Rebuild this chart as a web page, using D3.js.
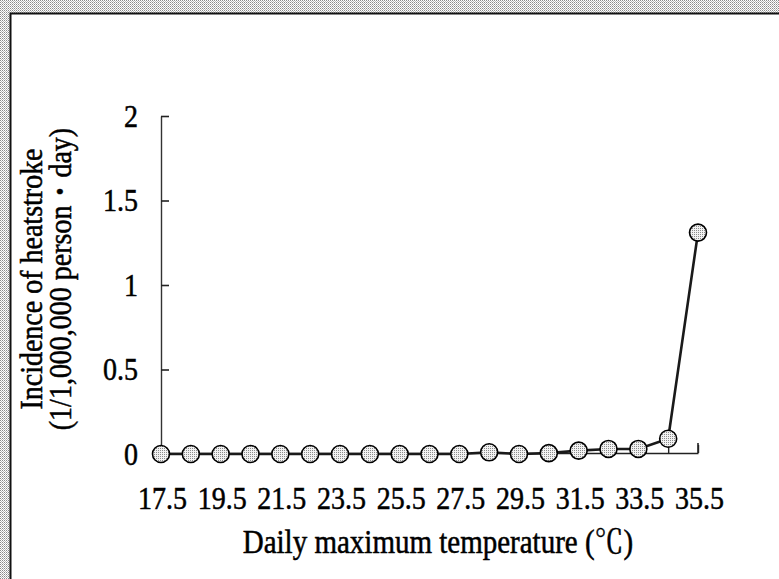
<!DOCTYPE html>
<html>
<head>
<meta charset="utf-8">
<script src="https://cdn.jsdelivr.net/npm/d3@7"></script>
<style>
  html, body { margin: 0; padding: 0; background: #fff; }
  svg { display: block; }
  text { font-family: "Liberation Serif", "Times New Roman", "Noto Serif CJK JP", "Noto Sans CJK JP", serif; fill: #000; stroke: #000; stroke-width: 0.45px; }
</style>
</head>
<body>
<script>
// ---- data ----
const temperatures = [17.5, 18.5, 19.5, 20.5, 21.5, 22.5, 23.5, 24.5, 25.5, 26.5, 27.5, 28.5, 29.5, 30.5, 31.5, 32.5, 33.5, 34.5, 35.5];
const incidence    = [0, 0, 0, 0, 0, 0, 0, 0, 0, 0, 0, 0.01, 0, 0.005, 0.02, 0.03, 0.03, 0.09, 1.31];
const xTickLabels  = ["17.5", "19.5", "21.5", "23.5", "25.5", "27.5", "29.5", "31.5", "33.5", "35.5"];
const yTicks       = [0, 0.5, 1, 1.5, 2];
const xTitle = "Daily maximum temperature (\u2103)";
const yTitleLines = ["Incidence of heatstroke", "(1/1,000,000 person\u30FBday)"];

const W = 779, H = 579;
const SY = 1.13; // vertical stretch of the scanned text
const svg = d3.select("body").append("svg").attr("width", W).attr("height", H);

// patterns
const defs = svg.append("defs");
const stip = defs.append("pattern").attr("id", "stip").attr("width", 2).attr("height", 2).attr("patternUnits", "userSpaceOnUse");
stip.append("rect").attr("width", 2).attr("height", 2).attr("fill", "#fff");
stip.append("rect").attr("x", 0).attr("y", 0).attr("width", 1).attr("height", 1).attr("fill", "#8a8a8a");
stip.append("rect").attr("x", 1).attr("y", 1).attr("width", 1).attr("height", 1).attr("fill", "#b8b8b8");
const dot = defs.append("pattern").attr("id", "dot").attr("width", 2).attr("height", 2).attr("patternUnits", "userSpaceOnUse");
dot.append("rect").attr("width", 2).attr("height", 2).attr("fill", "#f2f2f2");
dot.append("rect").attr("x", 0).attr("y", 0).attr("width", 1).attr("height", 1).attr("fill", "#8c8c8c");

// stippled margins (scan border)
svg.append("rect").attr("x", 0).attr("y", 0).attr("width", W).attr("height", 13).attr("fill", "url(#stip)");
svg.append("rect").attr("x", 0).attr("y", 0).attr("width", 10).attr("height", H).attr("fill", "url(#stip)");
svg.append("path").attr("d", `M10.5,${H}V13.5H${W}`).attr("fill", "none").attr("stroke", "#111").attr("stroke-width", 2);

// scales
const x = d3.scaleLinear().domain([17.5, 35.5]).range([161, 698]);
const y = d3.scaleLinear().domain([0, 2]).range([454, 116]);

// y axis
const yAxis = svg.append("g").attr("transform", `translate(${x(17.5)},0)`)
  .call(d3.axisLeft(y).tickValues(yTicks).tickSizeInner(-8).tickSizeOuter(0).tickPadding(23)
        .tickFormat(d => d3.format("")(d)));
yAxis.attr("font-family", null).attr("font-size", null);
yAxis.select(".domain").attr("stroke", "#333").attr("stroke-width", 1.4);
yAxis.selectAll(".tick line").attr("stroke", "#222").attr("stroke-width", 1.6);
yAxis.selectAll(".tick text").attr("font-size", 28).attr("dy", null).attr("x", null)
  .attr("transform", `translate(-23,10) scale(1,${SY})`);

// x axis
const xAxis = svg.append("g").attr("transform", `translate(0,${y(0) - 1})`)
  .call(d3.axisBottom(x).tickValues(temperatures).tickSizeInner(-8).tickSizeOuter(0).tickPadding(34)
        .tickFormat(d => xTickLabels.includes(d.toFixed(1)) ? d.toFixed(1) : ""));
xAxis.attr("font-family", null).attr("font-size", null);
xAxis.select(".domain").attr("stroke", "#222").attr("stroke-width", 1.6);
xAxis.selectAll(".tick line").attr("stroke", "#222").attr("stroke-width", 1.4);
xAxis.selectAll(".tick text").attr("font-size", 28).attr("dy", null).attr("y", null)
  .attr("transform", `translate(1,56) scale(1,${SY})`);
// right-end tick
xAxis.append("line").attr("x1", x(35.5)).attr("x2", x(35.5)).attr("y1", 0).attr("y2", -10)
  .attr("stroke", "#222").attr("stroke-width", 1.6);

// line
const pts = temperatures.map((t, i) => [t, incidence[i]]);
svg.append("path").datum(pts)
  .attr("d", d3.line().x(d => x(d[0])).y(d => y(d[1])))
  .attr("fill", "none").attr("stroke", "#1a1a1a").attr("stroke-width", 2.6);

// markers
svg.append("g").selectAll("circle").data(pts).join("circle")
  .attr("cx", d => x(d[0])).attr("cy", d => y(d[1])).attr("r", 8.5)
  .attr("fill", "url(#dot)").attr("stroke", "#000").attr("stroke-width", 1.6);

// titles
svg.append("text").attr("text-anchor", "middle")
  .attr("transform", `translate(438,553) scale(1,${SY})`)
  .attr("font-size", 29).text(xTitle);

const yt = svg.append("text").attr("transform", `translate(0,279) rotate(-90) scale(1,${SY * 0.98})`)
  .attr("text-anchor", "middle").attr("font-size", 28);
yt.append("tspan").attr("x", 0).attr("y", 38).text(yTitleLines[0]);
yt.append("tspan").attr("x", 0).attr("y", 64).text(yTitleLines[1]);
</script>
</body>
</html>
